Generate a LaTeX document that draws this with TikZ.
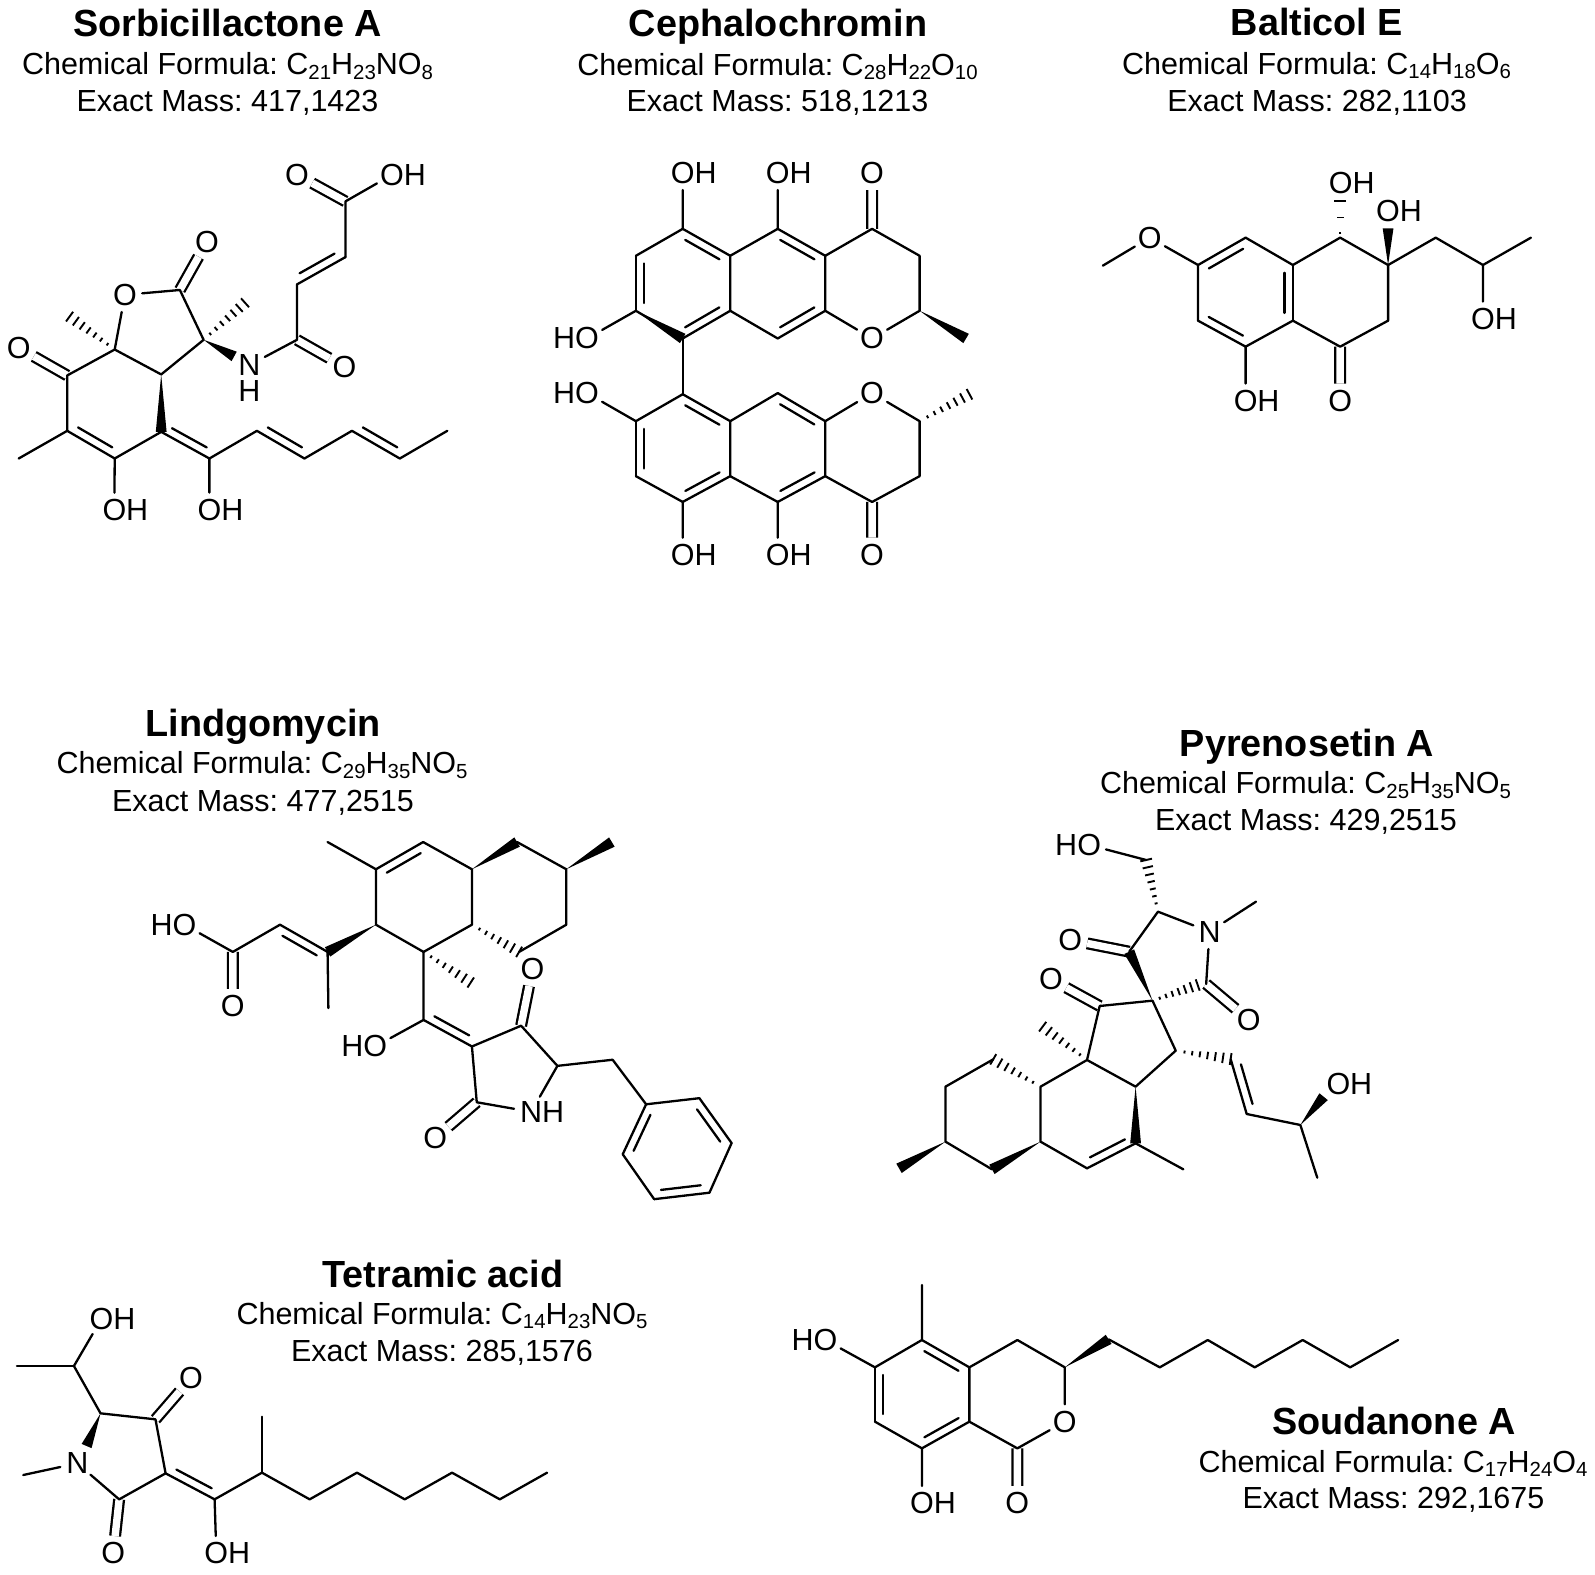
\documentclass[tikz,border=0pt]{standalone}
\usepackage{fontspec}
\setmainfont{Liberation Sans}
\usetikzlibrary{calc}
\newcommand{\chemsub}[1]{\raisebox{-2.4pt}{\fontsize{10.2}{12}\selectfont #1}}
\newcommand{\dblbond}[2]{%
  \begin{scope}[reset cm]
  \draw[bond] (#1) -- (#2);
  \draw[bond] ($(#1)!.14!(#2)!4.2pt!-90:(#2)$) -- ($(#2)!.14!(#1)!4.2pt!90:(#1)$);
  \end{scope}}
\newcommand{\wedgebond}[2]{%
  \begin{scope}[reset cm]
  \fill ($(#2)!2.7pt!90:(#1)$) -- ($(#2)!2.7pt!-90:(#1)$) -- (#1) -- cycle;
  \end{scope}}
\newcommand{\hashbond}[3][.16,.3,.44,.58,.72,.86,1]{%
  \begin{scope}[reset cm]
  \foreach \pos in {#1} {
    \pgfmathsetmacro{\hw}{2.7*\pos+.3}
    \coordinate (hp) at ($(#2)!\pos!(#3)$);
    \draw[hashline] ($(hp)!\hw pt!90:(#2)$) -- ($(hp)!\hw pt!-90:(#2)$);
  }
  \end{scope}}
\tikzset{
  bond/.style={line width=1.15pt,line cap=round,line join=round},
  carbonyl/.style={line width=1.15pt,double,double distance=3.7pt},
  hashline/.style={line width=.95pt},
  atom/.style={circle,inner sep=0pt,minimum size=17pt,font=\fontsize{15.25}{18}\selectfont},
  molname/.style={anchor=base,inner sep=0pt,font=\fontsize{18.9}{22}\selectfont\bfseries},
  molinfo/.style={anchor=base,inner sep=0pt,font=\fontsize{15.25}{18}\selectfont}
}
\begin{document}
\frenchspacing
\begin{tikzpicture}[x=.5pt,y=-.5pt]
  \useasboundingbox (0,0) rectangle (1595,1574);
  % names and formulas
  \node[molname] (sorbname) at (227.5,36) {Sorbicillactone A};
  \node[molinfo] (sorbform) at (227.5,74.5) {Chemical Formula: C\chemsub{21}H\chemsub{23}NO\chemsub{8}};
  \node[molinfo] (sorbmass) at (227.5,111) {Exact Mass: 417,1423};
  \node[molname] (cephname) at (778,36) {Cephalochromin};
  \node[molinfo] (cephform) at (777.5,75) {Chemical Formula: C\chemsub{28}H\chemsub{22}O\chemsub{10}};
  \node[molinfo] (cephmass) at (777.5,111.5) {Exact Mass: 518,1213};
  \node[molname] (baltname) at (1317,35.5) {Balticol E};
  \node[molinfo] (baltform) at (1316.5,74) {Chemical Formula: C\chemsub{14}H\chemsub{18}O\chemsub{6}};
  \node[molinfo] (baltmass) at (1317,111) {Exact Mass: 282,1103};
  \node[molname] (lindname) at (263,736) {Lindgomycin};
  \node[molinfo] (lindform) at (262,773.5) {Chemical Formula: C\chemsub{29}H\chemsub{35}NO\chemsub{5}};
  \node[molinfo] (lindmass) at (263,811) {Exact Mass: 477,2515};
  \node[molname] (pyrename) at (1307,756) {Pyrenosetin A};
  \node[molinfo] (pyreform) at (1305.5,793.5) {Chemical Formula: C\chemsub{25}H\chemsub{35}NO\chemsub{5}};
  \node[molinfo] (pyremass) at (1306,830) {Exact Mass: 429,2515};
  \node[molname] (tetrname) at (443,1287) {Tetramic acid};
  \node[molinfo] (tetrform) at (442,1324) {Chemical Formula: C\chemsub{14}H\chemsub{23}NO\chemsub{5}};
  \node[molinfo] (tetrmass) at (442,1361) {Exact Mass: 285,1576};
  \node[molname] (soudname) at (1394,1434) {Soudanone A};
  \node[molinfo] (soudform) at (1393,1472) {Chemical Formula: C\chemsub{17}H\chemsub{24}O\chemsub{4}};
  \node[molinfo] (soudmass) at (1393.5,1508) {Exact Mass: 292,1675};

  % Sorbicillactone A
  \begin{scope}[name prefix=sorb-,xscale=1/2.947,yscale=1/2.89]
    \node[atom] (o1) at (368,852) {O};
    \node[atom] (o2) at (610,698) {O};
    \node[atom] (o3) at (55,1005) {O};
    \node[atom] (o4) at (1015,1060) {O};
    \node[atom] (o5) at (875,505) {O};
    \node[atom] (oh1) at (337,1474) {O\rlap{H}};
    \node[atom] (oh2) at (617,1474) {O\rlap{H}};
    \node[atom] (oh3) at (1155,505) {O\rlap{H}};
    \node[atom] (n1) at (735,1055) {N\llap{\raisebox{-12.9pt}[0pt][0pt]{H}}};
    \coordinate (c1) at (530,838); \coordinate (c2) at (600,982); \coordinate (c3) at (475,1082);
    \coordinate (c4) at (338,1010); \coordinate (c5) at (198,1085); \coordinate (c6) at (198,1245);
    \coordinate (c7) at (338,1325); \coordinate (c8) at (475,1248); \coordinate (c9) at (617,1325);
    \coordinate (c10) at (757,1245); \coordinate (c11) at (897,1325); \coordinate (c12) at (1037,1245);
    \coordinate (c13) at (1178,1325); \coordinate (c14) at (1318,1245); \coordinate (c15) at (875,982);
    \coordinate (c16) at (875,822); \coordinate (c17) at (1018,743); \coordinate (c18) at (1018,582);
    \coordinate (me1) at (722,875); \coordinate (me2) at (205,915); \coordinate (me3) at (55,1325);
    \coordinate (w1) at (690,1030);
    \draw[carbonyl] (c1) -- (o2);
    \draw[carbonyl] (c5) -- (o3);
    \draw[carbonyl] (c15) -- (o4);
    \draw[carbonyl] (c18) -- (o5);
    \draw[bond] (c4) -- (o1) -- (c1) -- (c2) -- (c3) -- (c4) -- (c5) -- (c6) -- (me3);
    \draw[bond] (c7) -- (c8);
    \draw[bond] (c7) -- (oh1);
    \draw[bond] (c9) -- (oh2);
    \draw[bond] (c9) -- (c10);
    \draw[bond] (c11) -- (c12);
    \draw[bond] (c13) -- (c14);
    \draw[bond] (n1) -- (c15) -- (c16);
    \draw[bond] (c17) -- (c18) -- (oh3);
    \dblbond{c7}{c6}
    \dblbond{c9}{c8}
    \dblbond{c11}{c10}
    \dblbond{c13}{c12}
    \dblbond{c17}{c16}
    \wedgebond{c3}{c8}
    \wedgebond{c2}{w1}
    \hashbond{c2}{me1}
    \hashbond{c4}{me2}
  \end{scope}

  % Cephalochromin
  \begin{scope}[name prefix=ceph-,shift={(530,0)},xscale=1/2.947,yscale=1/2.6]
    \node[atom] (oh1) at (450,449) {O\rlap{H}};
    \node[atom] (oh2) at (730,449) {O\rlap{H}};
    \node[atom] (o1) at (1008,449) {O};
    \node[atom] (oh3) at (168,880) {\llap{H}O};
    \node[atom] (o2) at (1008,880) {O};
    \node[atom] (oh4) at (168,1022) {\llap{H}O};
    \node[atom] (o3) at (1008,1022) {O};
    \node[atom] (oh5) at (450,1443) {O\rlap{H}};
    \node[atom] (oh6) at (730,1443) {O\rlap{H}};
    \node[atom] (o4) at (1008,1443) {O};
    \coordinate (a1) at (450,595); \coordinate (a2) at (312,665); \coordinate (a3) at (312,808);
    \coordinate (a4) at (450,880); \coordinate (a5) at (590,808); \coordinate (a6) at (590,665);
    \coordinate (a7) at (730,595); \coordinate (a8) at (870,665); \coordinate (a9) at (870,808);
    \coordinate (a10) at (730,880); \coordinate (a11) at (1008,595); \coordinate (a12) at (1148,665);
    \coordinate (a13) at (1148,808); \coordinate (me1) at (1285,880);
    \coordinate (b1) at (450,1025); \coordinate (b2) at (312,1095); \coordinate (b3) at (312,1238);
    \coordinate (b4) at (450,1305); \coordinate (b5) at (590,1238); \coordinate (b6) at (590,1095);
    \coordinate (b7) at (730,1022); \coordinate (b8) at (870,1095); \coordinate (b9) at (870,1238);
    \coordinate (b10) at (730,1305); \coordinate (b11) at (1008,1305); \coordinate (b12) at (1148,1238);
    \coordinate (b13) at (1148,1095); \coordinate (me2) at (1295,1025);
    \draw[carbonyl] (a11) -- (o1);
    \draw[carbonyl] (b11) -- (o4);
    \draw[bond] (a1) -- (oh1);
    \draw[bond] (a7) -- (oh2);
    \draw[bond] (a3) -- (oh3);
    \draw[bond] (a1) -- (a2);
    \draw[bond] (a5) -- (a6) -- (a7);
    \draw[bond] (a5) -- (a10);
    \draw[bond] (a8) -- (a9) -- (o2) -- (a13) -- (a12) -- (a11) -- (a8);
    \draw[bond] (a4) -- (b1);
    \draw[bond] (b2) -- (oh4);
    \draw[bond] (b1) -- (b2);
    \draw[bond] (b3) -- (b4);
    \draw[bond] (b5) -- (b6) -- (b7);
    \draw[bond] (b5) -- (b10);
    \draw[bond] (b8) -- (o3) -- (b13) -- (b12) -- (b11) -- (b9) -- (b8);
    \draw[bond] (a3) -- (a4);
    \draw[bond] (b4) -- (oh5);
    \draw[bond] (b10) -- (oh6);
    \dblbond{a1}{a6}
    \dblbond{a3}{a2}
    \dblbond{a5}{a4}
    \dblbond{a7}{a8}
    \dblbond{a9}{a10}
    \dblbond{b1}{b6}
    \dblbond{b3}{b2}
    \dblbond{b5}{b4}
    \dblbond{b7}{b8}
    \dblbond{b9}{b10}
    \wedgebond{a13}{me1}
    \wedgebond{a3}{a4}
    \hashbond{b13}{me2}
  \end{scope}

  % Balticol E
  \begin{scope}[name prefix=balt-,shift={(1060,0)},xscale=1/2.92,yscale=1/3]
    \node[atom] (o1) at (262,713) {O};
    \node[atom] (oh1) at (820,550) {O\rlap{H}};
    \node[atom] (oh2) at (958,632) {O\rlap{H}};
    \node[atom] (oh3) at (1235,957) {O\rlap{H}};
    \node[atom] (oh4) at (542,1203) {O\rlap{H}};
    \node[atom] (o2) at (818,1203) {O};
    \coordinate (me1) at (125,797); \coordinate (c1) at (403,795); \coordinate (c2) at (542,713);
    \coordinate (c3) at (680,795); \coordinate (c4) at (818,713); \coordinate (c5) at (958,795);
    \coordinate (c6) at (958,962); \coordinate (c7) at (818,1040); \coordinate (c8) at (680,962);
    \coordinate (c9) at (542,1040); \coordinate (c10) at (403,962); \coordinate (c11) at (1097,713);
    \coordinate (c12) at (1235,795); \coordinate (me2) at (1375,713);
    \coordinate (w1) at (958,685); \coordinate (w2) at (818,603);
    \draw[carbonyl] (c7) -- (o2);
    \draw[bond] (me1) -- (o1) -- (c1) -- (c10);
    \draw[bond] (c2) -- (c3) -- (c4) -- (c5) -- (c6) -- (c7) -- (c8) -- (c9);
    \draw[bond] (c9) -- (oh4);
    \draw[bond] (c5) -- (c11) -- (c12) -- (me2);
    \draw[bond] (c12) -- (oh3);
    \dblbond{c1}{c2}
    \dblbond{c3}{c8}
    \dblbond{c9}{c10}
    \wedgebond{c5}{w1}
    \hashbond[.12,.55,1]{c4}{w2}
  \end{scope}

  % Lindgomycin
  \begin{scope}[name prefix=lind-,shift={(130,690)},xscale=1/2.48,yscale=1/2.94]
    \node[atom] (oh1) at (135,690) {\llap{H}O};
    \node[atom] (o1) at (255,930) {O};
    \node[atom] (oh2) at (608,1048) {\llap{H}O};
    \node[atom] (o2) at (998,820) {O};
    \node[atom] (n1) at (995,1240) {N\rlap{H}};
    \node[atom] (o3) at (757,1317) {O};
    \coordinate (me1) at (490,447); \coordinate (c1) at (610,527); \coordinate (c2) at (727,447);
    \coordinate (c3) at (848,527); \coordinate (c4) at (960,447); \coordinate (c5) at (1082,527);
    \coordinate (me2) at (1195,447); \coordinate (c6) at (1082,690); \coordinate (c7) at (965,770);
    \coordinate (c8) at (848,690); \coordinate (c9) at (728,770); \coordinate (c10) at (610,690);
    \coordinate (c11) at (490,770); \coordinate (me3) at (492,935); \coordinate (c12) at (372,690);
    \coordinate (c13) at (255,770); \coordinate (me4) at (845,860); \coordinate (c14) at (728,970);
    \coordinate (c15) at (848,1048); \coordinate (c16) at (970,987); \coordinate (c17) at (1060,1105);
    \coordinate (c18) at (860,1212); \coordinate (c19) at (1197,1087);
    \coordinate (p1) at (1280,1218); \coordinate (p2) at (1412,1200); \coordinate (p3) at (1492,1332);
    \coordinate (p4) at (1437,1478); \coordinate (p5) at (1300,1497); \coordinate (p6) at (1222,1365);
    \draw[carbonyl] (c13) -- (o1);
    \draw[carbonyl] (c16) -- (o2);
    \draw[carbonyl] (c18) -- (o3);
    \draw[bond] (me1) -- (c1) -- (c10) -- (c9) -- (c8) -- (c3) -- (c2);
    \draw[bond] (c4) -- (c5) -- (c6) -- (c7);
    \draw[bond] (c11) -- (me3);
    \draw[bond] (c12) -- (c13) -- (oh1);
    \draw[bond] (c9) -- (c14) -- (oh2);
    \draw[bond] (c15) -- (c16) -- (c17) -- (n1) -- (c18) -- (c15);
    \draw[bond] (c17) -- (c19) -- (p1);
    \draw[bond] (p1) -- (p2);
    \draw[bond] (p3) -- (p4);
    \draw[bond] (p5) -- (p6);
    \dblbond{c1}{c2}
    \dblbond{c12}{c11}
    \dblbond{c15}{c14}
    \dblbond{p2}{p3}
    \dblbond{p4}{p5}
    \dblbond{p6}{p1}
    \wedgebond{c3}{c4}
    \wedgebond{c5}{me2}
    \wedgebond{c10}{c11}
    \hashbond{c8}{c7}
    \hashbond{c9}{me4}
  \end{scope}

  % Pyrenosetin A
  \begin{scope}[name prefix=pyre-,shift={(880,710)},xscale=1/2.367,yscale=1/3]
    \node[atom] (oh1) at (495,405) {\llap{H}O};
    \node[atom] (n1) at (780,665) {N};
    \node[atom] (o1) at (450,690) {O};
    \node[atom] (o2) at (405,808) {O};
    \node[atom] (o3) at (873,930) {O};
    \node[atom] (oh2) at (1085,1122) {O\rlap{H}};
    \coordinate (c1) at (630,450); \coordinate (c2) at (658,605); \coordinate (me1) at (890,575);
    \coordinate (c3) at (590,725); \coordinate (c4) at (772,822); \coordinate (s1) at (645,872);
    \coordinate (c5) at (520,888); \coordinate (c6) at (700,1022); \coordinate (c7) at (605,1130);
    \coordinate (c8) at (490,1050); \coordinate (me2) at (385,950); \coordinate (c9) at (380,1130);
    \coordinate (c10) at (268,1048); \coordinate (c11) at (155,1130); \coordinate (c12) at (155,1295);
    \coordinate (me3) at (45,1375); \coordinate (c13) at (265,1378); \coordinate (c14) at (380,1295);
    \coordinate (c15) at (490,1375); \coordinate (c16) at (605,1300); \coordinate (me4) at (718,1378);
    \coordinate (c17) at (830,1047); \coordinate (c18) at (868,1212); \coordinate (c19) at (995,1245);
    \coordinate (w1) at (1050,1160); \coordinate (me5) at (1035,1403); \coordinate (w2) at (752,825);
    \draw[carbonyl] (c3) -- (o1);
    \draw[carbonyl] (c5) -- (o2);
    \draw[carbonyl] (c4) -- (o3);
    \draw[bond] (oh1) -- (c1);
    \draw[bond] (c3) -- (c2) -- (n1) -- (me1);
    \draw[bond] (n1) -- (c4);
    \draw[bond] (c8) -- (c5) -- (s1) -- (c6) -- (c7) -- (c8) -- (c9) -- (c14) -- (c15);
    \draw[bond] (c10) -- (c11) -- (c12) -- (c13);
    \draw[bond] (c16) -- (me4);
    \draw[bond] (c18) -- (c19) -- (me5);
    \dblbond{c16}{c15}
    \dblbond{c18}{c17}
    \wedgebond{s1}{c3}
    \wedgebond{c12}{me3}
    \wedgebond{c14}{c13}
    \wedgebond{c7}{c16}
    \wedgebond{c19}{w1}
    \hashbond{c2}{c1}
    \hashbond{s1}{w2}
    \hashbond{c8}{me2}
    \hashbond{c9}{c10}
    \hashbond{c6}{c17}
  \end{scope}

  % Tetramic acid
  \begin{scope}[name prefix=tetr-,shift={(0,1240)},xscale=1/2.367,yscale=1/3]
    \node[atom] (oh1) at (240,237) {O\rlap{H}};
    \node[atom] (o1) at (452,415) {O};
    \node[atom] (n1) at (183,670) {N};
    \node[atom] (o2) at (268,940) {O};
    \node[atom] (oh2) at (512,940) {O\rlap{H}};
    \coordinate (c1) at (175,378); \coordinate (me1) at (40,378); \coordinate (c2) at (238,520);
    \coordinate (w1) at (205,618); \coordinate (me2) at (55,705); \coordinate (c3) at (368,538);
    \coordinate (c4) at (392,700); \coordinate (c5) at (282,778); \coordinate (c6) at (508,778);
    \coordinate (c7) at (620,698); \coordinate (me3) at (620,530); \coordinate (c8) at (733,778);
    \coordinate (c9) at (845,698); \coordinate (c10) at (958,778); \coordinate (c11) at (1070,698);
    \coordinate (c12) at (1183,778); \coordinate (c13) at (1295,698);
    \draw[carbonyl] (c3) -- (o1);
    \draw[carbonyl] (c5) -- (o2);
    \draw[bond] (oh1) -- (c1) -- (c2) -- (c3) -- (c4) -- (c5) -- (n1) -- (me2);
    \draw[bond] (me1) -- (c1);
    \draw[bond] (c6) -- (oh2);
    \draw[bond] (c6) -- (c7) -- (c8) -- (c9) -- (c10) -- (c11) -- (c12) -- (c13);
    \draw[bond] (c7) -- (me3);
    \dblbond{c6}{c4}
    \wedgebond{c2}{w1}
  \end{scope}

  % Soudanone A
  \begin{scope}[name prefix=soud-,shift={(780,1260)},xscale=1/1.917,yscale=1/3]
    \node[atom] (oh1) at (87,240) {\llap{H}O};
    \node[atom] (oh2) at (272,730) {O\rlap{H}};
    \node[atom] (o1) at (546,485) {O};
    \node[atom] (o2) at (455,730) {O};
    \coordinate (me1) at (272,75); \coordinate (c1) at (272,240); \coordinate (c2) at (182,322);
    \coordinate (c3) at (182,485); \coordinate (c4) at (272,565); \coordinate (c5) at (363,485);
    \coordinate (c6) at (363,322); \coordinate (c7) at (455,240); \coordinate (c8) at (546,322);
    \coordinate (c9) at (455,565); \coordinate (c10) at (630,238); \coordinate (c11) at (728,322);
    \coordinate (c12) at (820,240); \coordinate (c13) at (910,322); \coordinate (c14) at (1002,240);
    \coordinate (c15) at (1093,322); \coordinate (c16) at (1185,240);
    \draw[carbonyl] (c9) -- (o2);
    \draw[bond] (me1) -- (c1) -- (c2) -- (oh1);
    \draw[bond] (c3) -- (c4) -- (oh2);
    \draw[bond] (c5) -- (c6) -- (c7) -- (c8) -- (o1) -- (c9) -- (c5);
    \draw[bond] (c10) -- (c11) -- (c12) -- (c13) -- (c14) -- (c15) -- (c16);
    \dblbond{c3}{c2}
    \dblbond{c1}{c6}
    \dblbond{c5}{c4}
    \wedgebond{c8}{c10}
  \end{scope}
\end{tikzpicture}
\end{document}
